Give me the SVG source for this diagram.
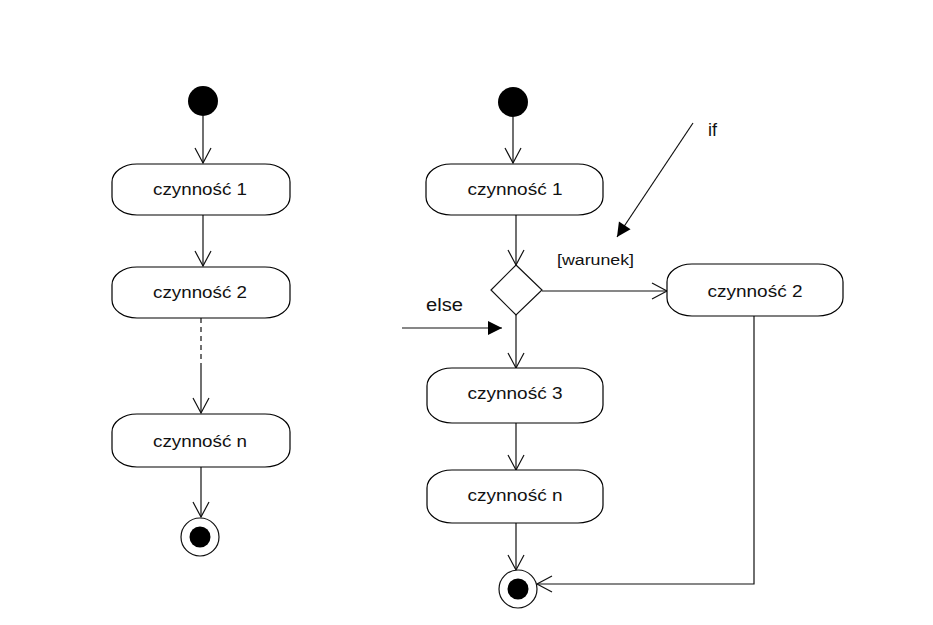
<svg xmlns="http://www.w3.org/2000/svg" width="933" height="625" viewBox="0 0 933 625">
<defs>
<style>
.box{fill:#fff;stroke:#000;stroke-width:1.2}
.lbl{font-family:"Liberation Sans",Arial,sans-serif;font-size:17px;fill:#111;text-anchor:middle}
.note{font-family:"Liberation Sans",Arial,sans-serif;fill:#111}
.ln{fill:none;stroke:#111;stroke-width:1.2}
.start{fill:#000}
</style>
<marker id="open" markerUnits="userSpaceOnUse" viewBox="-17 -10 19 20" markerWidth="19" markerHeight="20" refX="0" refY="0" orient="auto">
<path d="M -15 -8 L 0 0 L -15 8" fill="none" stroke="#111" stroke-width="1.2"/>
</marker>
<marker id="filled" markerUnits="userSpaceOnUse" viewBox="-15 -8 16 16" markerWidth="16" markerHeight="16" refX="0" refY="0" orient="auto">
<path d="M -14 -7 L 0 0 L -14 7 Z" fill="#000"/>
</marker>
</defs>
<rect width="933" height="625" fill="#fff"/>

<g id="connectors">
<line class="ln" x1="203" y1="116" x2="203" y2="163" marker-end="url(#open)"/>
<line class="ln" x1="203" y1="215" x2="203" y2="266" marker-end="url(#open)"/>
<line class="ln" x1="201" y1="318" x2="201" y2="364" stroke-dasharray="5,4"/>
<line class="ln" x1="201" y1="364" x2="201" y2="413" marker-end="url(#open)"/>
<line class="ln" x1="201" y1="467" x2="201" y2="517" marker-end="url(#open)"/>

<line class="ln" x1="513" y1="117" x2="513" y2="163" marker-end="url(#open)"/>
<line class="ln" x1="516" y1="215" x2="516" y2="265" marker-end="url(#open)"/>
<line class="ln" x1="542" y1="291" x2="667" y2="291" marker-end="url(#open)"/>
<line class="ln" x1="516" y1="315" x2="516" y2="368" marker-end="url(#open)"/>
<line class="ln" x1="516" y1="423" x2="516" y2="470" marker-end="url(#open)"/>
<line class="ln" x1="516" y1="523" x2="516" y2="570" marker-end="url(#open)"/>
<polyline class="ln" points="754,316 754,584 537,584" marker-end="url(#open)"/>

<line class="ln" x1="693" y1="123" x2="617" y2="237" marker-end="url(#filled)"/>
<line class="ln" x1="402" y1="328" x2="502" y2="328" marker-end="url(#filled)"/>
</g>

<g id="left-start"><circle class="start" cx="203" cy="101" r="15"/></g>
<g id="left-a1"><rect class="box" x="112" y="164" width="178" height="51" rx="25" ry="18"/><text class="lbl" x="200" y="195" textLength="94" lengthAdjust="spacingAndGlyphs">czynność 1</text></g>
<g id="left-a2"><rect class="box" x="112" y="267" width="178" height="51" rx="25" ry="18"/><text class="lbl" x="200" y="298" textLength="94" lengthAdjust="spacingAndGlyphs">czynność 2</text></g>
<g id="left-an"><rect class="box" x="112" y="414" width="178" height="53" rx="25" ry="18"/><text class="lbl" x="200" y="447" textLength="94" lengthAdjust="spacingAndGlyphs">czynność n</text></g>
<g id="left-end"><circle cx="200" cy="537" r="19" fill="#fff" stroke="#111" stroke-width="1.2"/><circle cx="200" cy="537" r="10.5" fill="#000"/></g>

<g id="right-start"><circle class="start" cx="513" cy="102" r="15"/></g>
<g id="right-a1"><rect class="box" x="426" y="164" width="177" height="51" rx="25" ry="18"/><text class="lbl" x="515" y="195" textLength="95" lengthAdjust="spacingAndGlyphs">czynność 1</text></g>
<g id="decision"><polygon points="516,265 542,290 516,315 491,290" fill="#fff" stroke="#111" stroke-width="1.2"/></g>
<g id="right-a2"><rect class="box" x="667" y="264" width="176" height="52" rx="25" ry="18"/><text class="lbl" x="755" y="297" textLength="95" lengthAdjust="spacingAndGlyphs">czynność 2</text></g>
<g id="right-a3"><rect class="box" x="427" y="368" width="176" height="55" rx="25" ry="18"/><text class="lbl" x="515" y="399" textLength="95" lengthAdjust="spacingAndGlyphs">czynność 3</text></g>
<g id="right-an"><rect class="box" x="427" y="470" width="176" height="53" rx="25" ry="18"/><text class="lbl" x="515" y="501" textLength="95" lengthAdjust="spacingAndGlyphs">czynność n</text></g>
<g id="right-end"><circle cx="518" cy="589" r="19" fill="#fff" stroke="#111" stroke-width="1.2"/><circle cx="518" cy="589" r="10.5" fill="#000"/></g>

<g id="labels">
<text class="note" x="557" y="265" font-size="14" textLength="77" lengthAdjust="spacingAndGlyphs">[warunek]</text>
<text class="note" x="708" y="136" font-size="18">if</text>
<text class="note" x="426" y="311" font-size="18" textLength="37" lengthAdjust="spacingAndGlyphs">else</text>
</g>
</svg>
